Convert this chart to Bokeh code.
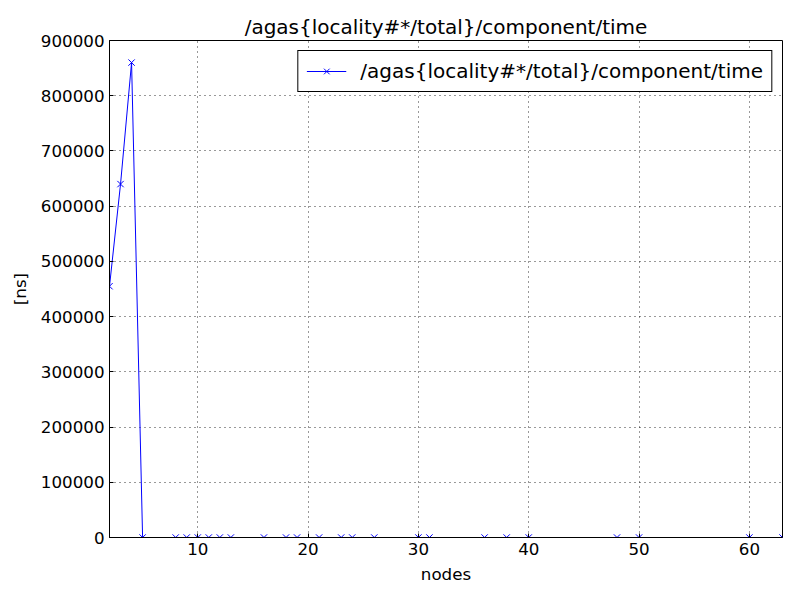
from bokeh.plotting import figure
from bokeh.models import Range1d, FixedTicker, BasicTickFormatter, Legend, LegendItem
from bokeh.embed import file_html
from bokeh.resources import INLINE

# data
nodes = [2, 3, 4, 5, 8, 9, 10, 11, 12, 13, 16, 18, 19, 21, 23, 24, 26, 30, 31, 36, 38, 40, 48, 50, 60, 63]
time_ns = [455000, 640000, 860000] + [0] * 23
series_name = "/agas{locality#*/total}/component/time"
x_ticks = [10, 20, 30, 40, 50, 60]
y_ticks = [0, 100000, 200000, 300000, 400000, 500000, 600000, 700000, 800000, 900000]

FONT = "DejaVu Sans"

p = figure(width=800, height=600, output_backend="svg", toolbar_location=None,
           x_range=Range1d(2, 63), y_range=Range1d(0, 900000),
           min_border_left=109, min_border_right=18, min_border_top=40, min_border_bottom=63,
           title=series_name)
p.background_fill_color = "white"
p.border_fill_color = "white"
p.outline_line_color = "black"
p.outline_line_width = 1
p.outline_line_alpha = 1

p.title.align = "center"
p.title.text_font = FONT
p.title.text_font_size = "20px"
p.title.text_font_style = "normal"
p.title.text_color = "black"
p.title.standoff = 4

line = p.line(nodes, time_ns, line_color="#0000ff", line_width=1)
pts = p.scatter(nodes, time_ns, marker="x", size=9, line_color="#0000ff", line_width=1)

for ax, ticks, lab in ((p.xaxis[0], x_ticks, "nodes"), (p.yaxis[0], y_ticks, "[ns]")):
    ax.ticker = FixedTicker(ticks=ticks)
    ax.axis_label = lab
    ax.axis_label_text_font = FONT
    ax.axis_label_text_font_size = "16.7px"
    ax.axis_label_text_font_style = "normal"
    ax.axis_label_text_color = "black"
    ax.major_label_text_font = FONT
    ax.major_label_text_font_size = "16.7px"
    ax.major_label_text_color = "black"
    ax.major_tick_in = 4
    ax.major_tick_out = 0
    ax.minor_tick_in = 0
    ax.minor_tick_out = 0
    ax.axis_line_color = "black"
    ax.major_tick_line_color = "black"
p.yaxis[0].formatter = BasicTickFormatter(use_scientific=False)
p.xaxis[0].axis_label_standoff = 6
p.yaxis[0].axis_label_standoff = 8

for g in (p.xgrid[0], p.ygrid[0]):
    g.grid_line_color = "black"
    g.grid_line_dash = "1 4"
    g.grid_line_width = 1
    g.grid_line_alpha = 0.8
p.xgrid[0].ticker = FixedTicker(ticks=x_ticks)
p.ygrid[0].ticker = FixedTicker(ticks=y_ticks)

legend = Legend(items=[LegendItem(label=series_name, renderers=[line, pts])],
                location="top_right")
legend.label_text_font = FONT
legend.label_text_font_size = "20px"
legend.label_text_color = "black"
legend.border_line_color = "black"
legend.border_line_width = 1
legend.border_line_alpha = 1
legend.background_fill_color = "white"
legend.background_fill_alpha = 1
legend.glyph_width = 40
legend.glyph_height = 20
legend.label_standoff = 14
legend.padding = 8
legend.margin = 10
legend.border_radius = 0
p.add_layout(legend)

open("out.html", "w").write(file_html(p, INLINE))
